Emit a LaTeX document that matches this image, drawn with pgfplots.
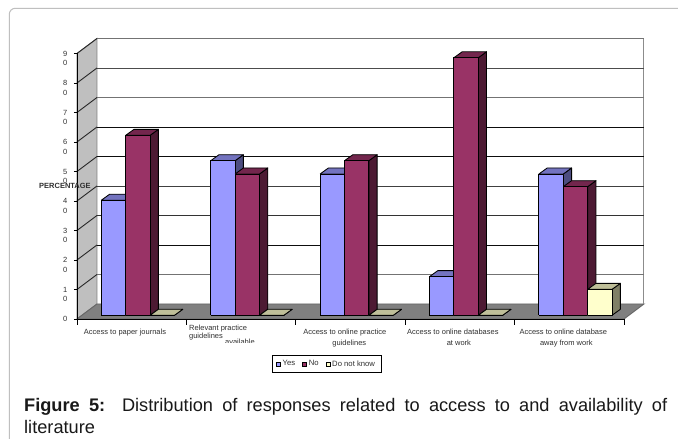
\documentclass[border=0pt]{standalone}
\usepackage{fontspec}
\setmainfont{Liberation Sans}
\usepackage{pgfplots}
\usepackage{pgfplotstable}
\pgfplotsset{compat=1.18}

\definecolor{yesF}{HTML}{9999FF}\definecolor{yesT}{HTML}{7373BF}\definecolor{yesS}{HTML}{4D4D80}
\definecolor{noF}{HTML}{993366}\definecolor{noT}{HTML}{73264D}\definecolor{noS}{HTML}{4D1A33}
\definecolor{dkF}{HTML}{FFFFCC}\definecolor{dkT}{HTML}{BFBF99}\definecolor{dkS}{HTML}{808066}
\definecolor{inktext}{HTML}{303030}

% Percentages per question
\pgfplotstableread{
Yes  No    DontKnow
39   61    0
52.4 47.9  0
47.9 52.4  0
13.1 87.3  0
47.9 43.6  8.8
}\responses

% Chart depth, in axis units
\def\wallDX{0.1828}\def\wallDY{5.085}
\def\barDX{0.0759}\def\barDY{2.034}
\def\barW{0.2229}\def\barBase{1.254}

% One solid bar: group, slot, value, three face colours
\newcommand\solidbar[6]{%
  \pgfmathsetmacro\xa{#1+0.2221+#2*\barW}%
  \pgfmathsetmacro\xb{\xa+\barW}%
  \pgfmathsetmacro\xc{\xb+\barDX}%
  \pgfmathsetmacro\xd{\xa+\barDX}%
  \pgfmathsetmacro\ya{\barBase}%
  \pgfmathsetmacro\yb{\barBase+#3}%
  \pgfmathsetmacro\yc{\yb+\barDY}%
  \pgfmathsetmacro\yd{\ya+\barDY}%
  \edef\faces{%
    \noexpand\addplot[forget plot,fill=#5,draw=black,line width=0.85pt,line join=round]
      coordinates {(\xb,\ya)(\xc,\yd)(\xc,\yc)(\xb,\yb)(\xb,\ya)};
    \noexpand\addplot[forget plot,fill=#6,draw=black,line width=0.85pt,line join=round]
      coordinates {(\xa,\yb)(\xb,\yb)(\xc,\yc)(\xd,\yc)(\xa,\yb)};
    \noexpand\addplot[forget plot,fill=#4,draw=black,line width=0.85pt,line join=round]
      coordinates {(\xa,\ya)(\xb,\ya)(\xb,\yb)(\xa,\yb)(\xa,\ya)};
  }\faces
}

% Gridline across the back wall
\newcommand\backline[2]{%
  \pgfmathsetmacro\ly{#1+\wallDY}%
  \pgfmathsetmacro\lx{5+\wallDX}%
  \edef\gl{\noexpand\addplot[forget plot,#2,line width=0.95pt]
    coordinates {(\wallDX,\ly)(\lx,\ly)};
    \noexpand\addplot[forget plot,black!85,line width=0.9pt]
    coordinates {(0,#1)(\wallDX,\ly)};}\gl
}

\newcommand\stk[2]{\vtop{\baselineskip=9.6pt\hbox{#1}\hbox{#2}}\hspace{3.8pt}}

\begin{document}
\begin{tikzpicture}[x=1pt,y=1pt]
\useasboundingbox (-77,-120) rectangle (601,319);
\fill[white] (-77,-120) rectangle (601,319);
% outer card frame
\draw[black!25,line width=1pt] (-67.7,-120) -- (-67.7,304.7) arc[start angle=180,end angle=90,radius=6] -- (601,310.7);

\begin{axis}[
  at={(0,0)},anchor=south west,
  scale only axis,width=547pt,height=265.5pt,
  xmin=0,xmax=5,ymin=0,ymax=90,
  clip=false,axis on top,
  axis x line=bottom,axis y line=left,
  axis line style={-,black,line width=0.9pt},
  tick align=outside,
  tick style={black,line width=0.8pt},
  major tick length=3pt,minor tick length=6pt,
  xtick={0.5,1.5,2.5,3.5,4.5},
  minor xtick={0,1,2,3,4,5},
  major x tick style={draw=none},
  xticklabels={
    {Access to paper journals\hspace*{13.4pt}},
    {\raisebox{4pt}[5.4pt][14pt]{\parbox[t]{104pt}{\baselineskip=8.4pt Relevant practice\\guidelines\\[-2.9pt]\hspace*{36pt}available}}},
    {Access to online practice\hspace*{11.4pt}\\guidelines\hspace*{2.4pt}},
    {Access to online databases\hspace*{14pt}\\at work\hspace*{2pt}},
    {Access to online database\hspace*{12pt}\\away from work\hspace*{6pt}}},
  xticklabel style={font=\fontsize{7.5}{11}\selectfont,text=inktext,align=center,anchor=north,yshift=-3.5pt},
  ytick={0,10,...,90},
  yticklabels={0,\stk{1}{0},\stk{2}{0},\stk{3}{0},\stk{4}{0},\stk{5}{0},\stk{6}{0},\stk{7}{0},\stk{8}{0},\stk{9}{0}},
  yticklabel style={font=\fontsize{7.5}{9.6}\selectfont,text=inktext,anchor=base east,yshift=-2.6pt,xshift=-3.2pt},
  ylabel={\textbf{PERCENTAGE}},
  every axis y label/.style={at={(axis cs:-0.11,45.1)},anchor=center,rotate=0,font=\fontsize{7.5}{9}\selectfont,text=inktext},
  legend style={at={(axis cs:2.281,-15.25)},anchor=center,draw=black,line width=0.9pt,
    legend columns=3,font=\fontsize{7.7}{9}\selectfont,text=inktext,inner xsep=4pt,inner ysep=3pt,
    /tikz/every even column/.append style={column sep=5pt}},
  legend cell align=left,
]
% side wall and floor
\addplot[forget plot,fill=black!25,draw=black!50,line width=0.9pt] coordinates {(0,0)(\wallDX,\wallDY)(\wallDX,95.085)(0,90)(0,0)};
\addplot[forget plot,fill=black!50,draw=black!60,line width=0.9pt] coordinates {(0,0)(5,0)(5.1828,\wallDY)(\wallDX,\wallDY)(0,0)};
\addplot[forget plot,black!45,line width=1pt] coordinates {(5.1828,\wallDY)(5.1828,95.085)};

% gridlines with their diagonals on the side wall
\backline{90}{black!55}
\backline{80}{black!70}
\backline{70}{black!55}
\backline{60}{black!95}
\backline{50}{black!95}
\backline{40}{black!75}
\backline{30}{black!80}
\backline{20}{black!95}
\backline{10}{black!55}

% bars, back to front and left to right
\pgfplotsforeachungrouped \g in {0,...,4}{%
  \pgfplotstablegetelem{\g}{Yes}\of\responses \edef\vy{\pgfplotsretval}%
  \pgfplotstablegetelem{\g}{No}\of\responses \edef\vn{\pgfplotsretval}%
  \pgfplotstablegetelem{\g}{DontKnow}\of\responses \edef\vd{\pgfplotsretval}%
  \solidbar{\g}{0}{\vy}{yesF}{yesS}{yesT}%
  \solidbar{\g}{1}{\vn}{noF}{noS}{noT}%
  \solidbar{\g}{2}{\vd}{dkF}{dkS}{dkT}%
}

\addlegendimage{legend image code/.code={\draw[fill=yesF,draw=black,line width=0.6pt] (0pt,-2pt) rectangle (4pt,2pt);}}
\addlegendentry{Yes}
\addlegendimage{legend image code/.code={\draw[fill=noF,draw=black,line width=0.6pt] (0pt,-2pt) rectangle (4pt,2pt);}}
\addlegendentry{No}
\addlegendimage{legend image code/.code={\draw[fill=dkF,draw=black,line width=0.6pt] (0pt,-2pt) rectangle (4pt,2pt);}}
\addlegendentry{Do not know}
\end{axis}

% the lower part of the wrapped category label is cut off
\fill[white] (140,-24) rectangle (190,-31);

\node[anchor=north west,inner sep=0pt,text width=643pt,align=justify,
      font=\fontsize{18.2}{22}\selectfont,text=black!90] at (-53,-79)
  {\textbf{Figure 5:}\hspace{0.1em} Distribution of responses related to access to and availability of\linebreak literature};
\end{tikzpicture}
\end{document}
